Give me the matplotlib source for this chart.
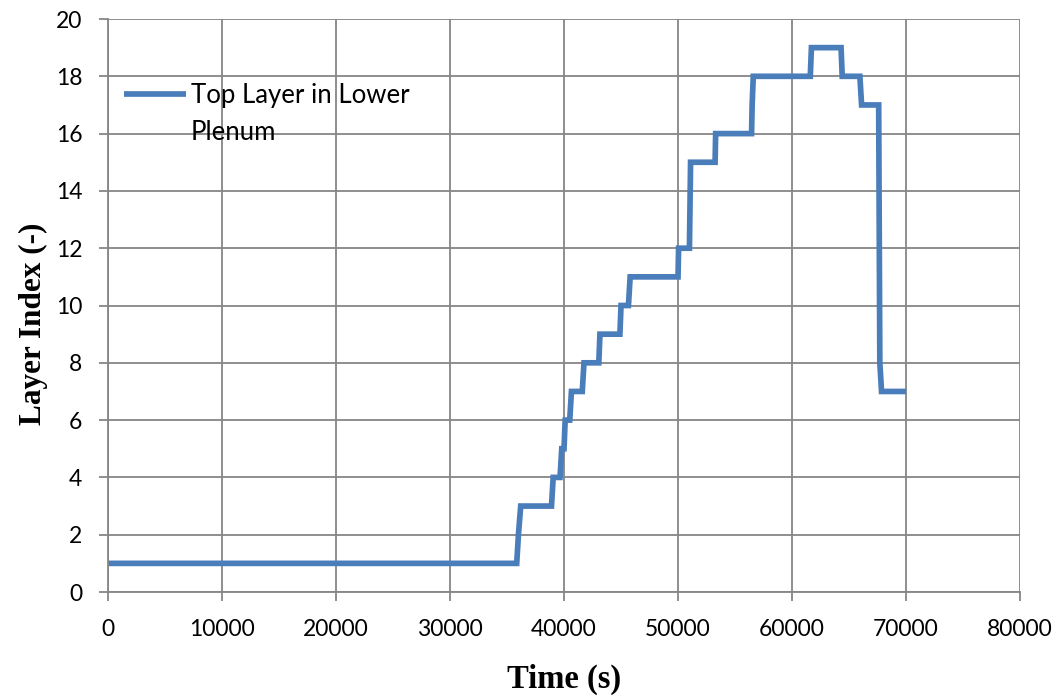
import matplotlib
matplotlib.use('Agg')
import matplotlib.pyplot as plt

# step trace (time in s, layer index)
time_s = [0, 35850, 36000, 36200, 38900, 39050, 39650, 39800, 40000, 40100,
          40500, 40650, 41600, 41750, 43050, 43150, 44900, 45000, 45650, 45800,
          50000, 50050, 51000, 51100, 53250, 53300, 56450, 56500, 56600, 61600,
          61700, 64300, 64400, 65950, 66100, 67600, 67700, 67850, 70000]
layer = [1, 1, 2, 3, 3, 4, 4, 5, 5, 6,
         6, 7, 7, 8, 8, 9, 9, 10, 10, 11,
         11, 12, 12, 15, 15, 16, 16, 17, 18, 18,
         19, 19, 18, 18, 17, 17, 8, 7, 7]

x_ticks = list(range(0, 80001, 10000))
y_ticks = list(range(0, 21, 2))
series_label = ['Top Layer in Lower', 'Plenum']

LINE_COLOR = '#4a7ebb'
GRID_COLOR = '#868686'

plt.rcParams['font.family'] = ['Lato', 'DejaVu Sans']

fig = plt.figure(figsize=(10.63, 6.96), dpi=100)
ax = fig.add_axes([0.1016, 0.1494, 0.8580, 0.8233])

ax.plot(time_s, layer, color=LINE_COLOR, linewidth=4.1, label=series_label[0],
        solid_joinstyle='miter', solid_capstyle='butt')

ax.set_xlim(0, 80000)
ax.set_ylim(0, 20)
ax.set_xticks(x_ticks)
ax.set_yticks(y_ticks)
ax.grid(True, color=GRID_COLOR, linewidth=1.3)
ax.set_axisbelow(True)

for side in ['top', 'right']:
    ax.spines[side].set_visible(False)
for side in ['left', 'bottom']:
    ax.spines[side].set_color(GRID_COLOR)
    ax.spines[side].set_linewidth(1.3)

ax.tick_params(axis='both', direction='out', length=6.5, width=1.3,
               color=GRID_COLOR, labelsize=16.5, labelcolor='black')
ax.tick_params(axis='x', pad=13)
ax.tick_params(axis='y', pad=12)

label_font = dict(family='Liberation Serif', fontweight='bold')
ax.set_xlabel('Time (s)', fontsize=23.5, **label_font)
ax.set_ylabel('Layer Index (-)', fontsize=22.5, **label_font)
ax.xaxis.set_label_coords(0.5, -0.126)
ax.yaxis.set_label_coords(-0.066, 0.468)

leg = ax.legend(loc='center left', bbox_to_anchor=(0.0175, 0.866), frameon=False,
                fontsize=18.5, handlelength=2.4, handletextpad=0.2,
                borderpad=0, borderaxespad=0)

# second line of the legend label, placed under the first one
fig.canvas.draw()
bb = leg.get_texts()[0].get_window_extent()
x0, y0 = ax.transAxes.inverted().transform((bb.x0, bb.y0))
ax.text(x0, y0 - 0.021, series_label[1], transform=ax.transAxes,
        fontsize=18.5, va='top', ha='left')

fig.savefig('out.png', dpi=100)
